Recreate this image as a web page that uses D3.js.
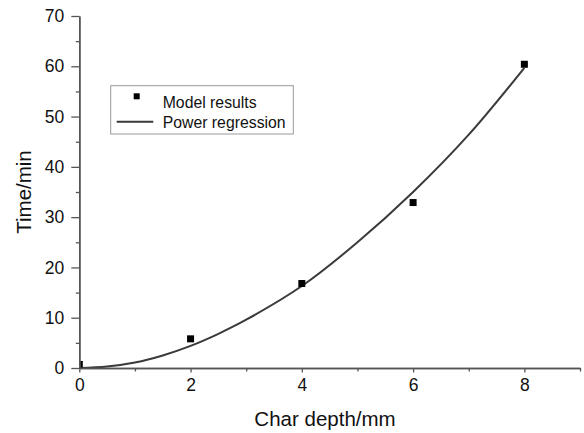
<!DOCTYPE html>
<html>
<head>
<meta charset="utf-8">
<script src="https://cdn.jsdelivr.net/npm/d3@7"></script>
<style>
  body { margin: 0; background: #fff; }
  svg { display: block; font-family: "Liberation Sans", Arial, Helvetica, sans-serif; }
</style>
</head>
<body>
<svg id="chart" width="584" height="433"></svg>
<script>
// model results (char depth in mm, time in min)
const depths = [0, 2, 4, 6, 8];
const times = [0.7, 5.8, 16.8, 32.9, 60.4];

// power regression curve
const fitDepths = [0, 0.5, 1, 1.5, 2, 2.5, 3, 4, 5, 6, 7, 8];
const fitTimes = [0, 0.3, 1.1, 2.5, 4.4, 6.8, 9.6, 16.3, 25.0, 35.0, 46.4, 59.7];

const xTicks = [0, 2, 4, 6, 8];
const xMinorTicks = [1, 3, 5, 7, 9];
const yTicks = [0, 10, 20, 30, 40, 50, 60, 70];
const yMinorTicks = [5, 15, 25, 35, 45, 55, 65];

const width = 584;
const height = 433;
const margin = { left: 79.3, right: 4, top: 16, bottom: 65 };
const axisColor = '#555';

const svg = d3.select('#chart');

const x = d3.scaleLinear()
  .domain([0, 9])
  .range([margin.left, width - margin.right]);

const y = d3.scaleLinear()
  .domain([0, 70])
  .range([height - margin.bottom, margin.top]);

svg.append('defs').append('clipPath')
  .attr('id', 'plot-clip')
  .append('rect')
  .attr('x', x(0))
  .attr('y', y(70))
  .attr('width', x(9) - x(0))
  .attr('height', y(0) - y(70));

// regression curve
const line = d3.line()
  .x(d => x(d))
  .y((d, i) => y(fitTimes[i]))
  .curve(d3.curveCatmullRom.alpha(0.5));

svg.append('path')
  .datum(fitDepths)
  .attr('d', line)
  .attr('fill', 'none')
  .attr('stroke', '#3a3a3a')
  .attr('stroke-width', 2);

// model points
const sq = 7;
svg.append('g')
  .attr('clip-path', 'url(#plot-clip)')
  .selectAll('rect')
  .data(depths)
  .join('rect')
  .attr('x', d => x(d) - sq / 2)
  .attr('y', (d, i) => y(times[i]) - sq / 2)
  .attr('width', sq)
  .attr('height', sq)
  .attr('fill', '#000');

// axes
function styleAxis(g) {
  g.select('.domain').attr('stroke', axisColor).attr('stroke-width', 1.5);
  g.selectAll('.tick line').attr('stroke', axisColor).attr('stroke-width', 1.3);
  g.selectAll('.tick text').attr('fill', '#111');
}

const xAxisY = y(0);
svg.append('g')
  .attr('transform', `translate(0,${xAxisY})`)
  .call(d3.axisBottom(x).tickValues(xMinorTicks).tickFormat('').tickSize(3.5).tickSizeOuter(0))
  .call(styleAxis);

svg.append('g')
  .attr('transform', `translate(0,${xAxisY})`)
  .call(d3.axisBottom(x).tickValues(xTicks).tickSize(4.5).tickSizeOuter(0).tickPadding(6))
  .call(styleAxis)
  .call(g => g.selectAll('.tick text').attr('font-size', 17.5).attr('font-family', null));

svg.append('g')
  .attr('transform', `translate(${x(0)},0)`)
  .call(d3.axisLeft(y).tickValues(yMinorTicks).tickFormat('').tickSize(3.5).tickSizeOuter(0))
  .call(styleAxis);

svg.append('g')
  .attr('transform', `translate(${x(0)},0)`)
  .call(d3.axisLeft(y).tickValues(yTicks).tickSize(8).tickSizeOuter(0).tickPadding(7))
  .call(styleAxis)
  .call(g => g.selectAll('.tick text').attr('font-size', 17.5).attr('font-family', null));

// axis titles
svg.append('text')
  .attr('x', 325)
  .attr('y', 426)
  .attr('text-anchor', 'middle')
  .attr('font-size', 20.5)
  .attr('fill', '#111')
  .text('Char depth/mm');

svg.append('text')
  .attr('transform', `translate(31,${(y(0) + y(70)) / 2}) rotate(-90)`)
  .attr('text-anchor', 'middle')
  .attr('font-size', 20.5)
  .attr('fill', '#111')
  .text('Time/min');

// legend
const legend = svg.append('g');
legend.append('rect')
  .attr('x', 110.7)
  .attr('y', 85.7)
  .attr('width', 182.6)
  .attr('height', 48.3)
  .attr('fill', '#fff')
  .attr('stroke', '#999')
  .attr('stroke-width', 1);

legend.append('rect')
  .attr('x', 136.7 - 3)
  .attr('y', 96.3 - 3)
  .attr('width', 6)
  .attr('height', 6)
  .attr('fill', '#000');

legend.append('line')
  .attr('x1', 116.7)
  .attr('x2', 153.3)
  .attr('y1', 121.7)
  .attr('y2', 121.7)
  .attr('stroke', '#3a3a3a')
  .attr('stroke-width', 2);

legend.append('text')
  .attr('x', 162.7)
  .attr('y', 102.7)
  .attr('dy', '0.35em')
  .attr('font-size', 15.8)
  .attr('fill', '#111')
  .text('Model results');

legend.append('text')
  .attr('x', 162.7)
  .attr('y', 122.5)
  .attr('dy', '0.35em')
  .attr('font-size', 15.8)
  .attr('fill', '#111')
  .text('Power regression');
</script>
</body>
</html>
